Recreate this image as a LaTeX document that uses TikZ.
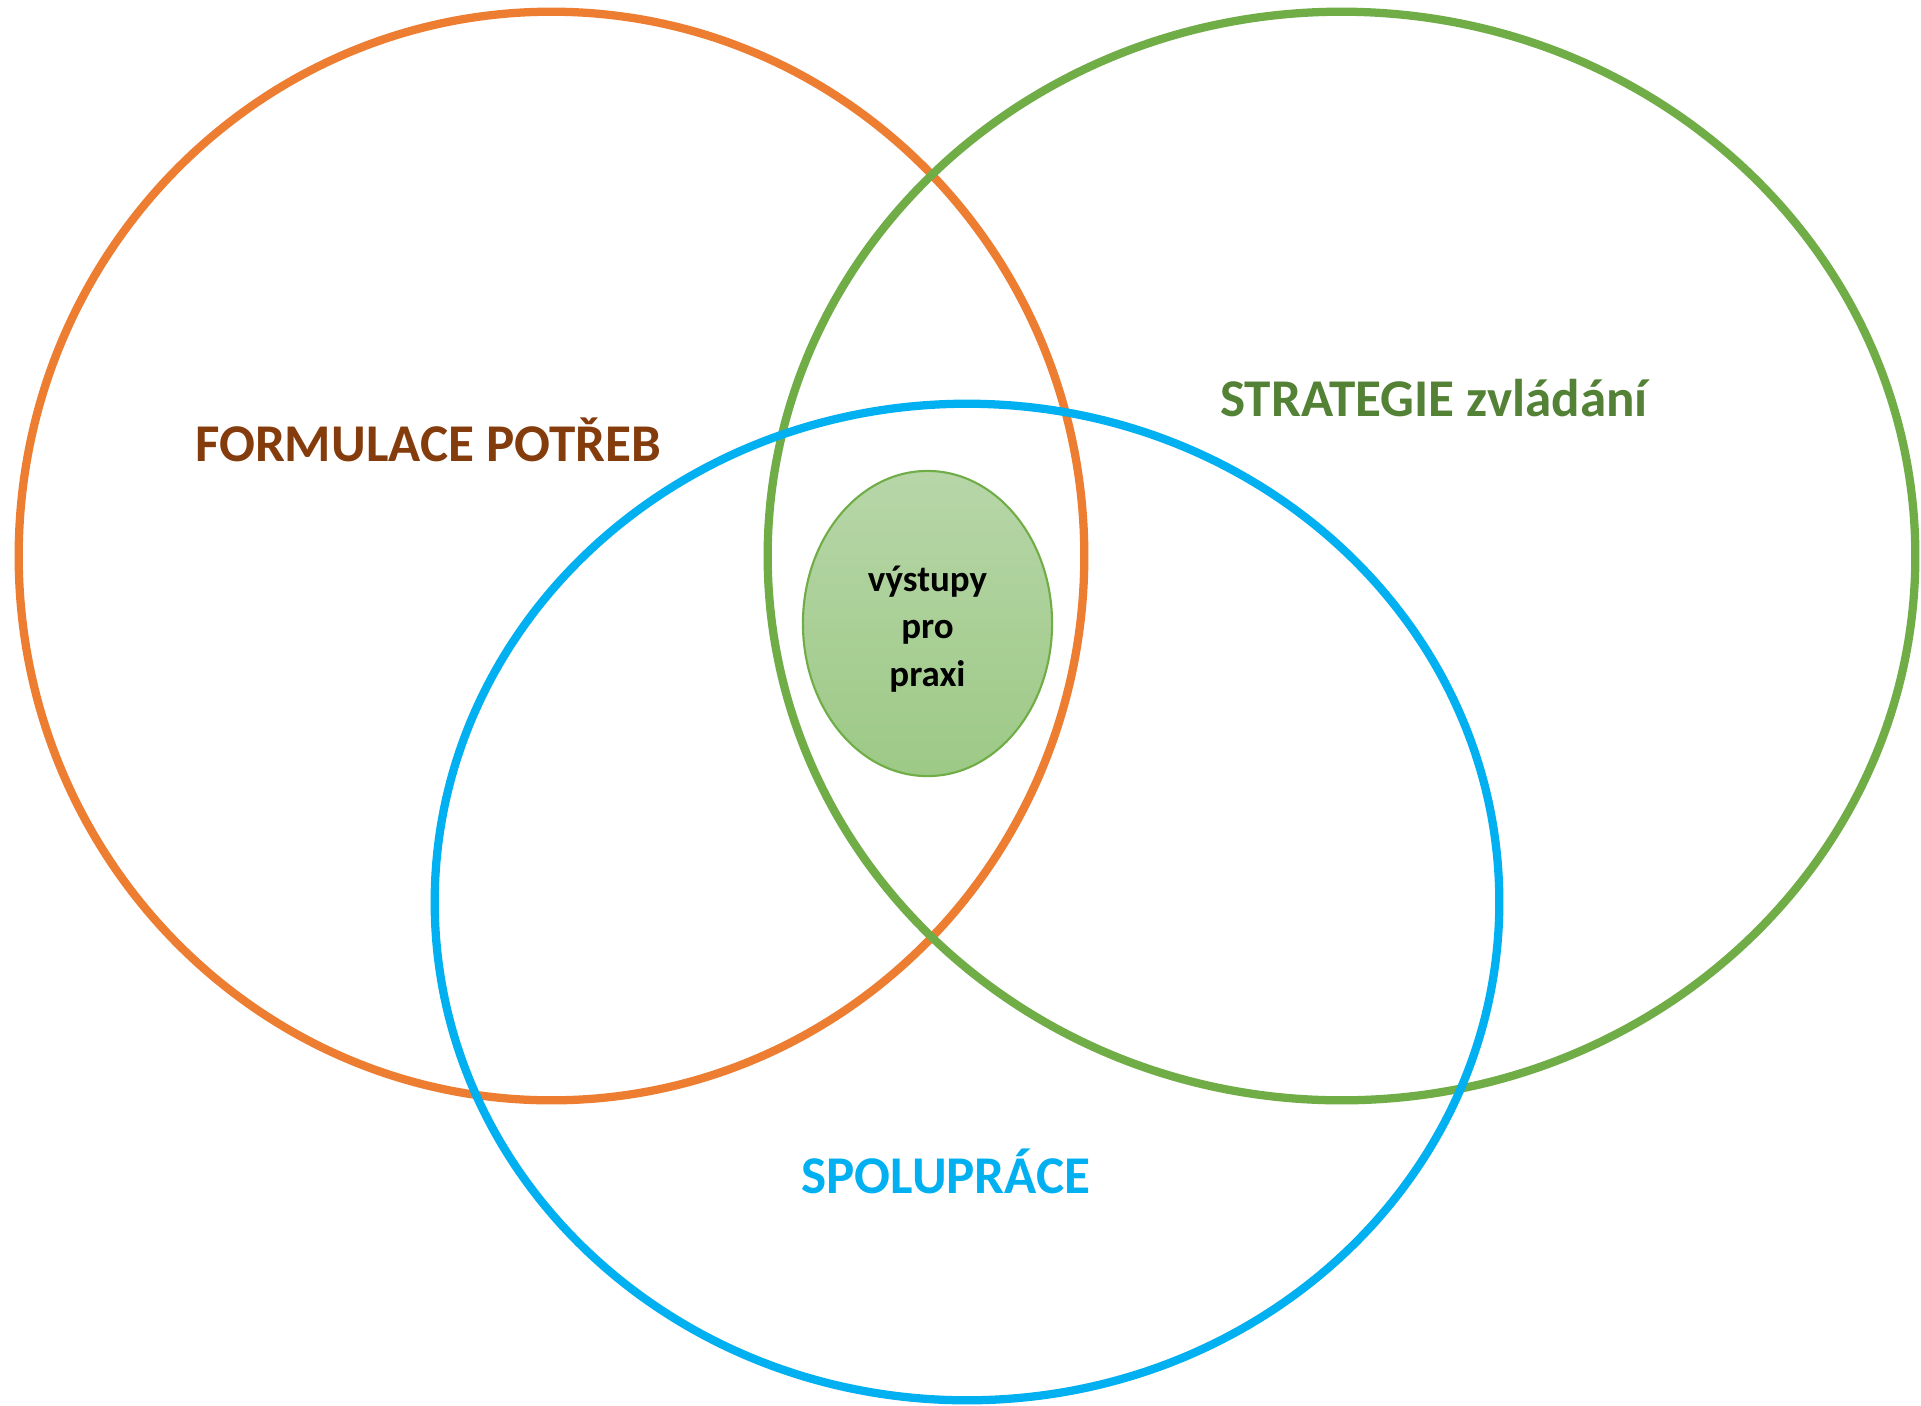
\documentclass[tikz,border=0pt]{standalone}
\usepackage{fontspec}
\setmainfont{Carlito}
\usetikzlibrary{shapes.geometric}
\definecolor{corange}{HTML}{ED7D31}
\definecolor{cgreen}{HTML}{70AD47}
\definecolor{cblue}{HTML}{00B0F0}
\definecolor{tbrown}{HTML}{843C0C}
\definecolor{tgreen}{HTML}{538135}
\definecolor{gtop}{HTML}{B7D6A8}
\definecolor{gbot}{HTML}{9DC986}
\tikzset{
  ring/.style={line width=2.35pt},
  bigtext/.style={font=\fontsize{15.1}{18}\selectfont\bfseries, inner sep=0pt},
}
\begin{document}
\begin{tikzpicture}[x=0.01cm,y=-0.01cm]
\useasboundingbox[fill=white] (0,0) rectangle (1921,1405);
\draw[ring,corange] (551.5,556) ellipse [x radius=5.325cm, y radius=5.44cm];
\draw[ring,cgreen] (1341.5,556) ellipse [x radius=5.735cm, y radius=5.44cm];
\draw[ring,cblue] (967,902) ellipse [x radius=5.32cm, y radius=4.98cm];
\node[ellipse, draw=cgreen, line width=0.6pt, top color=gtop, bottom color=gbot,
      minimum width=2.49cm, minimum height=3.05cm, inner sep=0pt] (out) at (927.5,623.5) {};
\node[align=center, font=\fontsize{10.5}{13.6}\selectfont\bfseries, inner sep=0pt] (outtext) at (927.5,629) {výstupy\\pro\\praxi};
\node[bigtext, text=tbrown] (form) at (428,440) {FORMULACE POTŘEB};
\node[bigtext, text=tgreen] (strat) at (1434,398) {STRATEGIE zvládání};
\node[bigtext, text=cblue] (spol) at (946,1171) {SPOLUPRÁCE};
\end{tikzpicture}
\end{document}
